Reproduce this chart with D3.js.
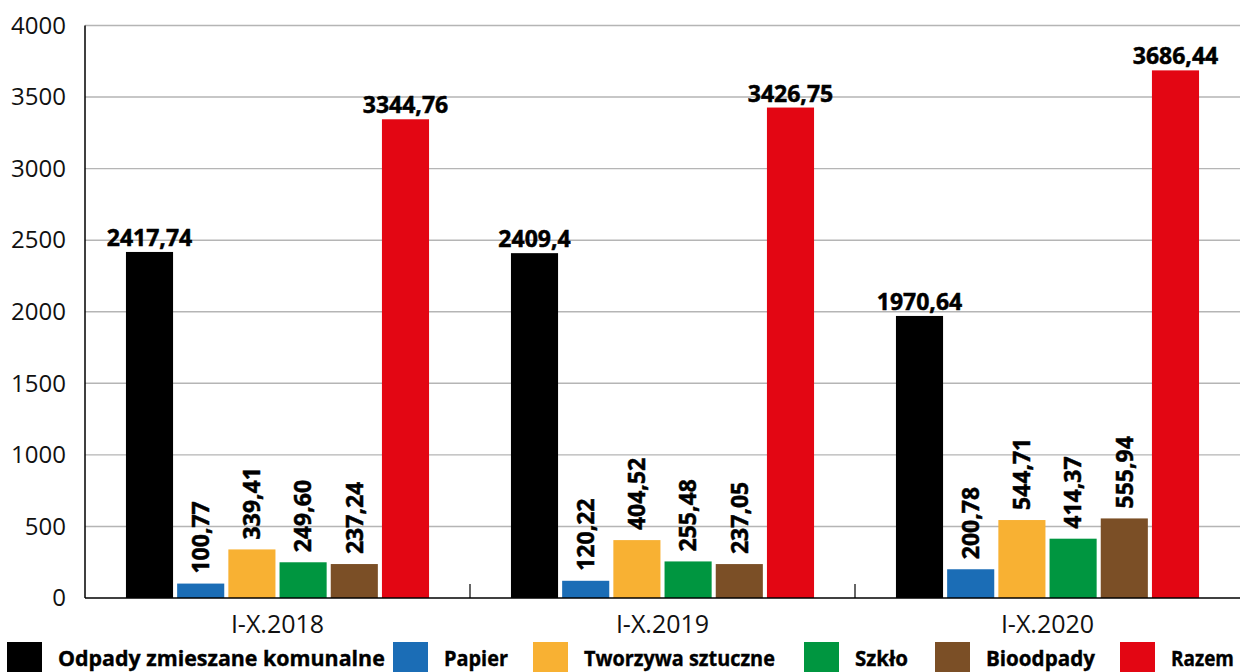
<!DOCTYPE html>
<html>
<head>
<meta charset="utf-8">
<script src="https://cdn.jsdelivr.net/npm/d3@7"></script>
<style>
  html, body { margin: 0; padding: 0; background: #fff; }
  svg { display: block; font-family: "Open Sans", "DejaVu Sans", sans-serif; }
</style>
</head>
<body>
<svg id="chart" width="1242" height="672"></svg>
<script>
// ---- data ----
const categories = ["I-X.2018", "I-X.2019", "I-X.2020"];
const seriesNames = ["Odpady zmieszane komunalne", "Papier", "Tworzywa sztuczne", "Szkło", "Bioodpady", "Razem"];
const seriesColors = ["#000000", "#1b6db6", "#f8b133", "#009640", "#7b4f26", "#e30613"];
const odpadyZmieszane = [2417.74, 2409.4, 1970.64];
const papier = [100.77, 120.22, 200.78];
const tworzywa = [339.41, 404.52, 544.71];
const szklo = [249.60, 255.48, 414.37];
const bioodpady = [237.24, 237.05, 555.94];
const razem = [3344.76, 3426.75, 3686.44];
const valueLabels = [
  ["2417,74", "2409,4", "1970,64"],
  ["100,77", "120,22", "200,78"],
  ["339,41", "404,52", "544,71"],
  ["249,60", "255,48", "414,37"],
  ["237,24", "237,05", "555,94"],
  ["3344,76", "3426,75", "3686,44"]
];
const yTicks = [0, 500, 1000, 1500, 2000, 2500, 3000, 3500, 4000];
const seriesValues = [odpadyZmieszane, papier, tworzywa, szklo, bioodpady, razem];

// ---- layout ----
const svg = d3.select("#chart");
const plotLeft = 85, plotRight = 1240, plotTop = 25.5, plotBottom = 598;

const x0 = d3.scaleBand().domain(categories).range([plotLeft, plotRight]).paddingInner(0).paddingOuter(0);
const x1 = d3.scaleBand().domain(seriesNames).range([0, x0.bandwidth()]).paddingInner(0.08).paddingOuter(0.8);
const y = d3.scaleLinear().domain([0, 4000]).range([plotBottom, plotTop]);

// gridlines
svg.append("g")
  .selectAll("line")
  .data(yTicks.filter(d => d > 0))
  .join("line")
  .attr("x1", plotLeft).attr("x2", plotRight)
  .attr("y1", d => y(d)).attr("y2", d => y(d))
  .attr("stroke", "#b5b5b5").attr("stroke-width", 1.4);

// y axis labels
const yAxis = d3.axisLeft(y).tickValues(yTicks).tickSize(0).tickPadding(19).tickFormat(d3.format("d"));
const gy = svg.append("g").attr("transform", `translate(${plotLeft},0)`).call(yAxis);
gy.select(".domain").remove();
gy.selectAll("text")
  .attr("font-family", "'Open Sans', sans-serif")
  .attr("font-size", 24)
  .attr("fill", "#111");

// bars
const groups = svg.append("g")
  .selectAll("g")
  .data(categories)
  .join("g")
  .attr("transform", d => `translate(${x0(d)},0)`);

groups.each(function(cat, ci) {
  const g = d3.select(this);
  seriesNames.forEach((s, si) => {
    const v = seriesValues[si][ci];
    g.append("rect")
      .attr("x", x1(s))
      .attr("y", y(v))
      .attr("width", x1.bandwidth())
      .attr("height", plotBottom - y(v))
      .attr("fill", seriesColors[si]);
    const cx = x1(s) + x1.bandwidth() / 2;
    const lbl = valueLabels[si][ci];
    const t = g.append("text")
      .attr("font-weight", 700)
      .attr("font-size", 23)
      .attr("fill", "#000")
      .attr("stroke", "#000")
      .attr("stroke-width", 0.5)
      .text(lbl);
    if (si === 0 || si === 5) {
      t.attr("x", cx)
        .attr("y", y(v) - 6)
        .attr("text-anchor", "middle");
    } else {
      t.attr("transform", `translate(${cx},${y(v) - 10}) rotate(-90)`)
        .attr("dy", "0.36em")
        .attr("text-anchor", "start");
    }
  });
});

// axes lines
svg.append("line")
  .attr("x1", plotLeft).attr("x2", plotLeft).attr("y1", plotTop).attr("y2", plotBottom)
  .attr("stroke", "#000").attr("stroke-width", 1.5);
svg.append("line")
  .attr("x1", plotLeft).attr("x2", plotRight).attr("y1", plotBottom).attr("y2", plotBottom)
  .attr("stroke", "#000").attr("stroke-width", 1.6);

// category separators (inside ticks)
svg.append("g")
  .selectAll("line")
  .data(categories.slice(1))
  .join("line")
  .attr("x1", d => x0(d)).attr("x2", d => x0(d))
  .attr("y1", plotBottom - 14).attr("y2", plotBottom)
  .attr("stroke", "#000").attr("stroke-width", 1.2);

// category labels
svg.append("g")
  .selectAll("text")
  .data(categories)
  .join("text")
  .attr("x", d => x0(d) + x0.bandwidth() / 2)
  .attr("y", 633)
  .attr("text-anchor", "middle")
  .attr("font-size", 25)
  .attr("fill", "#111")
  .text(d => d);

// legend
const legendX = [7, 393, 533, 804, 935, 1120];
const legendTextWidth = [327, 64, 191, 53, 109, 63];
const legend = svg.append("g")
  .selectAll("g")
  .data(seriesNames)
  .join("g")
  .attr("transform", (d, i) => `translate(${legendX[i]},642)`);
legend.append("rect")
  .attr("width", 35).attr("height", 35)
  .attr("fill", (d, i) => seriesColors[i]);
legend.append("text")
  .attr("font-weight", 700)
  .attr("font-size", 22)
  .attr("fill", "#000")
  .attr("stroke", "#000")
  .attr("stroke-width", 0.4)
  .text(d => d)
  .each(function(d, i) {
    const w = this.getComputedTextLength();
    const sx = w > 0 ? legendTextWidth[i] / w : 1;
    d3.select(this).attr("transform", `translate(51,23.5) scale(${sx},1)`);
  });
</script>
</body>
</html>
